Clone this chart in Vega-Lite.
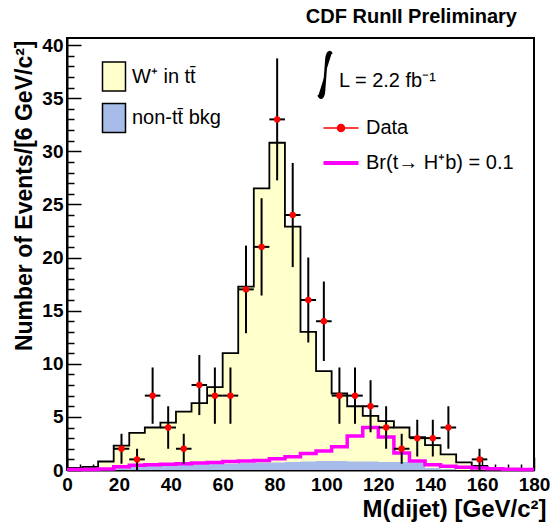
{
  "$schema": "https://vega.github.io/schema/vega-lite/v6.json",
  "width": 467,
  "height": 432,
  "autosize": {"type": "none"},
  "padding": {"left": 67, "top": 38, "right": 18, "bottom": 54},
  "background": "white",
  "title": {"text": "CDF RunII Preliminary", "anchor": "end", "frame": "group", "font": "Liberation Sans", "fontSize": 20, "fontWeight": "bold", "color": "black", "dx": -17, "dy": 18, "offset": 11, "baseline": "alphabetic"},
  "config": {
    "view": {"stroke": "black", "strokeWidth": 2},
    "font": "Liberation Sans",
    "legend": {"labelFont": "Liberation Sans", "labelColor": "black", "labelFontSize": 20, "labelLimit": 400, "padding": 0, "offset": 0}
  },
  "datasets": {
    "hist": [
      {"lo": 0, "total": 0.2, "bkg": 0, "sig": 0.05},
      {"lo": 6, "total": 0.3, "bkg": 0, "sig": 0.05},
      {"lo": 12, "total": 0.8, "bkg": 0, "sig": 0.1},
      {"lo": 18, "total": 2.3, "bkg": 0.35, "sig": 0.3},
      {"lo": 24, "total": 3.5, "bkg": 0.4, "sig": 0.45},
      {"lo": 30, "total": 4.0, "bkg": 0.45, "sig": 0.5},
      {"lo": 36, "total": 4.45, "bkg": 0.45, "sig": 0.55},
      {"lo": 42, "total": 5.5, "bkg": 0.5, "sig": 0.6},
      {"lo": 48, "total": 6.3, "bkg": 0.55, "sig": 0.65},
      {"lo": 54, "total": 7.8, "bkg": 0.6, "sig": 0.7},
      {"lo": 60, "total": 11.0, "bkg": 0.6, "sig": 0.8},
      {"lo": 66, "total": 17.25, "bkg": 0.65, "sig": 0.85},
      {"lo": 72, "total": 26.5, "bkg": 0.7, "sig": 0.9},
      {"lo": 78, "total": 30.8, "bkg": 0.7, "sig": 1.05},
      {"lo": 84, "total": 22.9, "bkg": 0.75, "sig": 1.25},
      {"lo": 90, "total": 13.0, "bkg": 0.8, "sig": 1.55},
      {"lo": 96, "total": 9.3, "bkg": 0.85, "sig": 1.8},
      {"lo": 102, "total": 7.2, "bkg": 0.85, "sig": 2.2},
      {"lo": 108, "total": 6.0, "bkg": 0.8, "sig": 3.2},
      {"lo": 114, "total": 5.1, "bkg": 0.8, "sig": 4.0},
      {"lo": 120, "total": 4.6, "bkg": 0.75, "sig": 3.1},
      {"lo": 126, "total": 4.0, "bkg": 0.75, "sig": 1.6},
      {"lo": 132, "total": 3.1, "bkg": 0.7, "sig": 0.85},
      {"lo": 138, "total": 2.35, "bkg": 0.2, "sig": 0.5},
      {"lo": 144, "total": 1.47, "bkg": 0.1, "sig": 0.35},
      {"lo": 150, "total": 0.72, "bkg": 0, "sig": 0.25},
      {"lo": 156, "total": 0.38, "bkg": 0, "sig": 0.18},
      {"lo": 162, "total": 0.2, "bkg": 0, "sig": 0.12},
      {"lo": 168, "total": 0.1, "bkg": 0, "sig": 0.08},
      {"lo": 174, "total": 0.05, "bkg": 0, "sig": 0.05},
      {"lo": 180, "total": 0.05, "bkg": 0, "sig": 0.05}
    ],
    "obs": [
      {"c": 21, "lo": 18, "hi": 24, "n": 2, "elo": 0.59, "ehi": 3.41},
      {"c": 27, "lo": 24, "hi": 30, "n": 1, "elo": 0, "ehi": 2},
      {"c": 33, "lo": 30, "hi": 36, "n": 7, "elo": 4.35, "ehi": 9.65},
      {"c": 39, "lo": 36, "hi": 42, "n": 4, "elo": 2, "ehi": 6},
      {"c": 45, "lo": 42, "hi": 48, "n": 2, "elo": 0.59, "ehi": 3.41},
      {"c": 51, "lo": 48, "hi": 54, "n": 8, "elo": 5.17, "ehi": 10.83},
      {"c": 57, "lo": 54, "hi": 60, "n": 7, "elo": 4.35, "ehi": 9.65},
      {"c": 63, "lo": 60, "hi": 66, "n": 7, "elo": 4.35, "ehi": 9.65},
      {"c": 69, "lo": 66, "hi": 72, "n": 17, "elo": 12.88, "ehi": 21.12},
      {"c": 75, "lo": 72, "hi": 78, "n": 21, "elo": 16.42, "ehi": 25.58},
      {"c": 81, "lo": 78, "hi": 84, "n": 33, "elo": 27.26, "ehi": 38.74},
      {"c": 87, "lo": 84, "hi": 90, "n": 24, "elo": 19.1, "ehi": 28.9},
      {"c": 93, "lo": 90, "hi": 96, "n": 16, "elo": 12, "ehi": 20},
      {"c": 99, "lo": 96, "hi": 102, "n": 14, "elo": 10.26, "ehi": 17.74},
      {"c": 105, "lo": 102, "hi": 108, "n": 7, "elo": 4.35, "ehi": 9.65},
      {"c": 111, "lo": 108, "hi": 114, "n": 7, "elo": 4.35, "ehi": 9.65},
      {"c": 117, "lo": 114, "hi": 120, "n": 6, "elo": 3.55, "ehi": 8.45},
      {"c": 123, "lo": 120, "hi": 126, "n": 4, "elo": 2, "ehi": 6},
      {"c": 129, "lo": 126, "hi": 132, "n": 2, "elo": 0.59, "ehi": 3.41},
      {"c": 135, "lo": 132, "hi": 138, "n": 3, "elo": 1.27, "ehi": 4.73},
      {"c": 141, "lo": 138, "hi": 144, "n": 3, "elo": 1.27, "ehi": 4.73},
      {"c": 147, "lo": 144, "hi": 150, "n": 4, "elo": 2, "ehi": 6},
      {"c": 159, "lo": 156, "hi": 162, "n": 1, "elo": 0, "ehi": 2}
    ]
  },
  "layer": [
    {
      "layer": [
        {
          "data": {"name": "hist"},
          "mark": {"type": "area", "interpolate": "step-after", "opacity": 1},
          "encoding": {
            "x": {"field": "lo", "type": "quantitative", "scale": {"domain": [0, 180], "nice": false, "zero": false},
              "title": "M(dijet) [GeV/c²]",
              "axis": {
                "orient": "bottom",
                "values": [0, 20, 40, 60, 80, 100, 120, 140, 160, 180],
                "tickSize": -13, "tickColor": "black", "tickWidth": 1.5,
                "labelFont": "Liberation Sans", "labelFontSize": 19, "labelFontWeight": "bold", "labelColor": "black",
                "labelPadding": 18, "labelFlush": false, "labelOverlap": false,
                "domainColor": "black", "domainWidth": 2, "grid": false,
                "titleFont": "Liberation Sans", "titleFontSize": 24, "titleFontWeight": "bold", "titleColor": "black",
                "titleAlign": "right", "titleAnchor": "end", "titleX": 479, "titleY": 46, "titleBaseline": "alphabetic"
              }
            },
            "y": {"field": "total", "type": "quantitative", "scale": {"domain": [0, 40.66], "nice": false},
              "title": "Number of Events/[6 GeV/c²]",
              "axis": {
                "orient": "left",
                "values": [0, 5, 10, 15, 20, 25, 30, 35, 40],
                "tickSize": -14, "tickColor": "black", "tickWidth": 1.5,
                "labelFont": "Liberation Sans", "labelFontSize": 19, "labelFontWeight": "bold", "labelColor": "black",
                "labelPadding": 18, "labelFlush": false, "labelOverlap": false,
                "domainColor": "black", "domainWidth": 2, "grid": false,
                "titleFont": "Liberation Sans", "titleFontSize": 23, "titleFontWeight": "bold", "titleColor": "black",
                "titleAlign": "right", "titleAnchor": "end", "titleAngle": -90, "titleX": -36, "titleY": 2, "titleBaseline": "alphabetic"
              }
            },
            "fill": {"datum": "W⁺ in tt̄",
              "scale": {"domain": ["W⁺ in tt̄", "non-tt̄ bkg"], "range": ["#ffffcc", "#a8bce9"]},
              "legend": {"orient": "none", "legendX": 31.5, "legendY": 23, "title": null,
                "symbolType": "M-0.793,-1H0.793V1H-0.793Z", "symbolSize": 841, "symbolStrokeColor": "black", "symbolStrokeWidth": 1.5,
                "labelOffset": 2.5, "rowPadding": 6.5,
                "encode": {"symbols": {"update": {"stroke": {"value": "black"}, "strokeWidth": {"value": 1.5}, "opacity": {"value": 1}}}}
              }
            }
          }
        },
        {
          "data": {"name": "hist"},
          "mark": {"type": "area", "interpolate": "step-after", "opacity": 1},
          "encoding": {
            "x": {"field": "lo", "type": "quantitative", "scale": {"domain": [0, 180], "nice": false, "zero": false}, "title": "M(dijet) [GeV/c²]"},
            "y": {"field": "bkg", "type": "quantitative", "scale": {"domain": [0, 40.66], "nice": false}, "title": "Number of Events/[6 GeV/c²]"},
            "fill": {"datum": "non-tt̄ bkg"}
          }
        },
        {
          "data": {"name": "hist"},
          "mark": {"type": "line", "interpolate": "step-after", "color": "black", "strokeWidth": 1.8},
          "encoding": {
            "x": {"field": "lo", "type": "quantitative", "scale": {"domain": [0, 180], "nice": false, "zero": false}, "title": "M(dijet) [GeV/c²]"},
            "y": {"field": "total", "type": "quantitative", "scale": {"domain": [0, 40.66], "nice": false}, "title": "Number of Events/[6 GeV/c²]"}
          }
        },
        {
          "data": {"name": "hist"},
          "mark": {"type": "line", "interpolate": "step-after", "strokeWidth": 3.5},
          "encoding": {
            "x": {"field": "lo", "type": "quantitative", "scale": {"domain": [0, 180], "nice": false, "zero": false}, "title": "M(dijet) [GeV/c²]"},
            "y": {"field": "sig", "type": "quantitative", "scale": {"domain": [0, 40.66], "nice": false}, "title": "Number of Events/[6 GeV/c²]"},
            "color": {"datum": "Br(t→ H⁺b) = 0.1",
              "scale": {"domain": ["L = 2.2 fb⁻¹", "Data", "Br(t→ H⁺b) = 0.1"], "range": ["#000000", "#ff0000", "#ff00ff"]},
              "legend": {"orient": "none", "legendX": 264, "legendY": 33, "title": null,
                "symbolSize": 1225, "symbolStrokeWidth": 1.5, "labelOffset": 15, "rowPadding": 15,
                "encode": {
                  "symbols": {"update": {
                    "shape": {"signal": "datum.index === 0 ? 'M-0.543,-1.543C-0.6,-1.714,-0.771,-1.714,-0.829,-1.314L-0.971,0.571C-1.0,1.029,-1.2,1.029,-1.286,0.8' : datum.index === 1 ? 'M-1,0H-0.2M0.2,0H1M-0.2,0A0.2,0.2,0,1,0,0.2,0A0.2,0.2,0,1,0,-0.2,0' : 'M-1,0H1'"},
                    "stroke": {"signal": "datum.index === 2 ? '#ff00ff' : '#000000'"},
                    "fill": {"signal": "datum.index === 1 ? '#ff0000' : 'transparent'"},
                    "strokeWidth": {"signal": "datum.index === 2 ? 4 : datum.index === 0 ? 2.5 : 1.5"},
                    "opacity": {"value": 1}
                  }},
                  "labels": {"update": {"dx": {"signal": "datum.index === 0 ? -27 : 0"}}}
                }
              }
            }
          }
        },
        {
          "data": {"name": "obs"},
          "mark": {"type": "rule", "color": "black", "strokeWidth": 2},
          "encoding": {
            "x": {"field": "c", "type": "quantitative", "scale": {"domain": [0, 180], "nice": false, "zero": false}, "title": "M(dijet) [GeV/c²]"},
            "y": {"field": "elo", "type": "quantitative", "scale": {"domain": [0, 40.66], "nice": false}, "title": "Number of Events/[6 GeV/c²]"},
            "y2": {"field": "ehi"}
          }
        },
        {
          "data": {"name": "obs"},
          "mark": {"type": "rule", "color": "black", "strokeWidth": 2},
          "encoding": {
            "x": {"field": "lo", "type": "quantitative", "scale": {"domain": [0, 180], "nice": false, "zero": false}, "title": "M(dijet) [GeV/c²]"},
            "x2": {"field": "hi"},
            "y": {"field": "n", "type": "quantitative", "scale": {"domain": [0, 40.66], "nice": false}, "title": "Number of Events/[6 GeV/c²]"}
          }
        }
      ]
    },
    {
      "data": {"name": "obs"},
      "mark": {"type": "point", "filled": true, "size": 40, "opacity": 1},
      "encoding": {
        "x": {"field": "c", "type": "quantitative", "scale": {"domain": [0, 180], "nice": false, "zero": false},
          "axis": {"orient": "bottom", "values": [5,10,15,25,30,35,45,50,55,65,70,75,85,90,95,105,110,115,125,130,135,145,150,155,165,170,175],
            "tickSize": -6, "tickColor": "black", "tickWidth": 1.5, "labels": false, "domain": false, "grid": false, "title": null}
        },
        "y": {"field": "n", "type": "quantitative", "scale": {"domain": [0, 40.66], "nice": false},
          "axis": {"orient": "left", "values": [1,2,3,4,6,7,8,9,11,12,13,14,16,17,18,19,21,22,23,24,26,27,28,29,31,32,33,34,36,37,38,39],
            "tickSize": -7, "tickColor": "black", "tickWidth": 1.5, "labels": false, "domain": false, "grid": false, "title": null}
        },
        "color": {"datum": "Data"}
      }
    }
  ],
  "resolve": {"axis": {"x": "independent", "y": "independent"}}
}
